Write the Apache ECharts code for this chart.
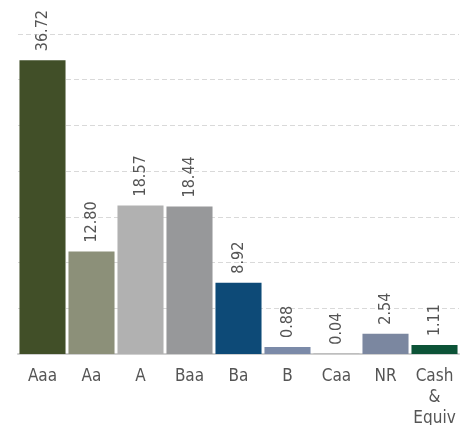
<!DOCTYPE html>
<html>
<head>
<meta charset="utf-8">
<script src="https://cdn.jsdelivr.net/npm/echarts@6/dist/echarts.min.js"></script>
<style>
  html, body { margin: 0; padding: 0; background: #fff; }
  #main { width: 462px; height: 425px; }
</style>
</head>
<body>
<div id="main"></div>
<script>
// credit quality breakdown
var categories = ['Aaa', 'Aa', 'A', 'Baa', 'Ba', 'B', 'Caa', 'NR', 'Cash\n&\nEquiv'];
var values = [36.72, 12.80, 18.57, 18.44, 8.92, 0.88, 0.04, 2.54, 1.11];
var barColors = ['#414f28', '#8c9079', '#b1b1b1', '#97989a', '#0d4a77', '#7b8aa8', '#8a8a8a', '#7b87a0', '#0c5337'];

var font = "'DejaVu Sans Condensed', 'DejaVu Sans', sans-serif";

var chart = echarts.init(document.getElementById('main'), null, {renderer: 'canvas'});
chart.setOption({
    animation: false,
    backgroundColor: '#fff',
    grid: {left: 18, right: 3, top: 34, bottom: 71, outerBoundsMode: 'none'},
    xAxis: {
        type: 'category',
        data: categories,
        axisLine: {show: true, lineStyle: {color: '#cfcfcf', width: 2}},
        axisTick: {show: false},
        axisLabel: {
            color: '#555', fontFamily: font, fontSize: 17, fontWeight: 'condensed',
            lineHeight: 21, margin: 12, interval: 0
        }
    },
    yAxis: {
        type: 'value',
        min: 0,
        max: 40,
        interval: 40 / 7,
        axisLabel: {show: false},
        axisLine: {show: false},
        axisTick: {show: false},
        splitLine: {lineStyle: {color: '#d9d9d9', type: [5, 3], width: 1}}
    },
    series: [{
        type: 'bar',
        barCategoryGap: '6%',
        data: values.map(function (v, i) {
            return {value: v, itemStyle: {color: barColors[i]}};
        }),
        label: {
            show: true,
            position: 'top',
            rotate: 90,
            align: 'left',
            verticalAlign: 'middle',
            distance: 9,
            color: '#555',
            fontFamily: font,
            fontSize: 16,
            fontWeight: 'condensed',
            formatter: function (p) { return p.value.toFixed(2); }
        }
    }]
});
</script>
</body>
</html>
